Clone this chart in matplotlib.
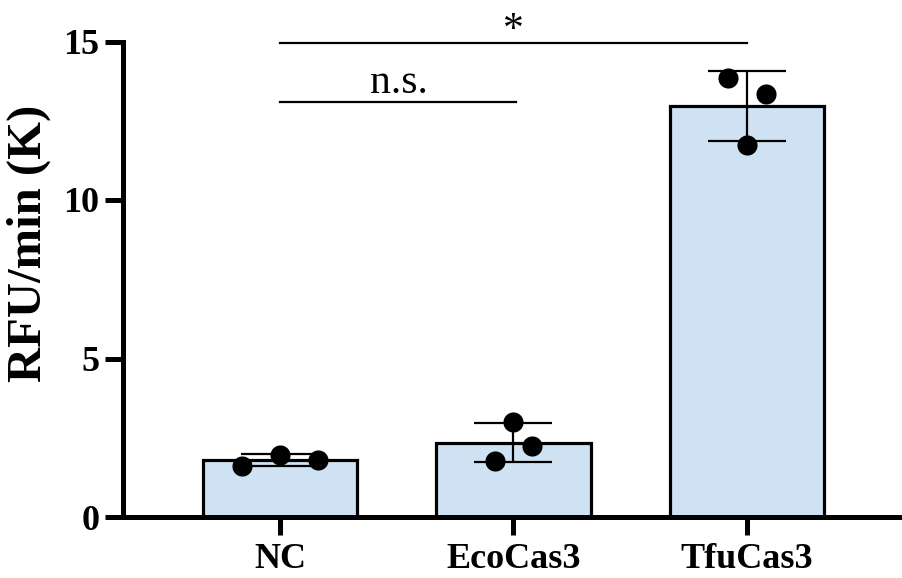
import numpy as np
import matplotlib
matplotlib.use("Agg")
import matplotlib.pyplot as plt

# Replicate measurements (RFU/min, thousands)
groups = ["NC", "EcoCas3", "TfuCas3"]
nc_vals = [1.61, 1.97, 1.80]
eco_vals = [1.78, 3.01, 2.25]
tfu_vals = [13.86, 13.33, 11.73]
replicates = [nc_vals, eco_vals, tfu_vals]
yticks = [0, 5, 10, 15]

# Horizontal spread of replicate dots within each bar
dot_offsets = [[-0.163, 0.0, 0.163], [-0.08, 0.0, 0.078], [-0.08, 0.08, 0.0]]

means = [np.mean(v) for v in replicates]
sds = [np.std(v, ddof=1) for v in replicates]

plt.rcParams["font.family"] = ["Liberation Serif", "DejaVu Serif"]

fig = plt.figure(figsize=(9.03, 5.78), dpi=100)
ax = fig.add_axes([123 / 903, 61 / 578, 780 / 903, 475.5 / 578])

x = np.arange(len(groups))
ax.bar(x, means, width=0.66, color="#cfe2f3", edgecolor="black",
       linewidth=2.3, zorder=2)
ax.errorbar(x, means, yerr=sds, fmt="none", ecolor="black",
            elinewidth=1.6, capsize=28, capthick=1.6, zorder=3)
for xi, vals, offs in zip(x, replicates, dot_offsets):
    ax.scatter(xi + np.array(offs), vals, s=210, color="black", zorder=4,
               linewidths=0)

ax.set_xlim(-0.672, 2.668)
ax.set_ylim(0, 15)
ax.set_xticks(x)
ax.set_xticklabels(groups, fontsize=26, fontweight="bold")
ax.set_yticks(yticks)
ax.set_yticklabels([str(t) for t in yticks], fontsize=26, fontweight="bold")
ax.set_ylabel("RFU/min (K)", fontsize=35, fontweight="bold")
ax.yaxis.set_label_coords(-0.092, 0.575)

for side in ("top", "right"):
    ax.spines[side].set_visible(False)
for side in ("left", "bottom"):
    ax.spines[side].set_linewidth(3.6)
ax.tick_params(axis="both", width=3.6, length=13, direction="out", pad=4)
ax.tick_params(axis="x", pad=6)

# Significance brackets
ax.plot([0.0, 1.01], [13.1, 13.1], color="black", lw=1.6, clip_on=False)
ax.text(0.51, 13.08, "n.s.", ha="center", va="bottom", fontsize=30)
ax.plot([0.0, 2.0], [14.94, 14.94], color="black", lw=1.6, clip_on=False)
ax.text(1.0, 14.72, "*", ha="center", va="bottom", fontsize=30,
        clip_on=False)

fig.savefig("out.png", dpi=100)
